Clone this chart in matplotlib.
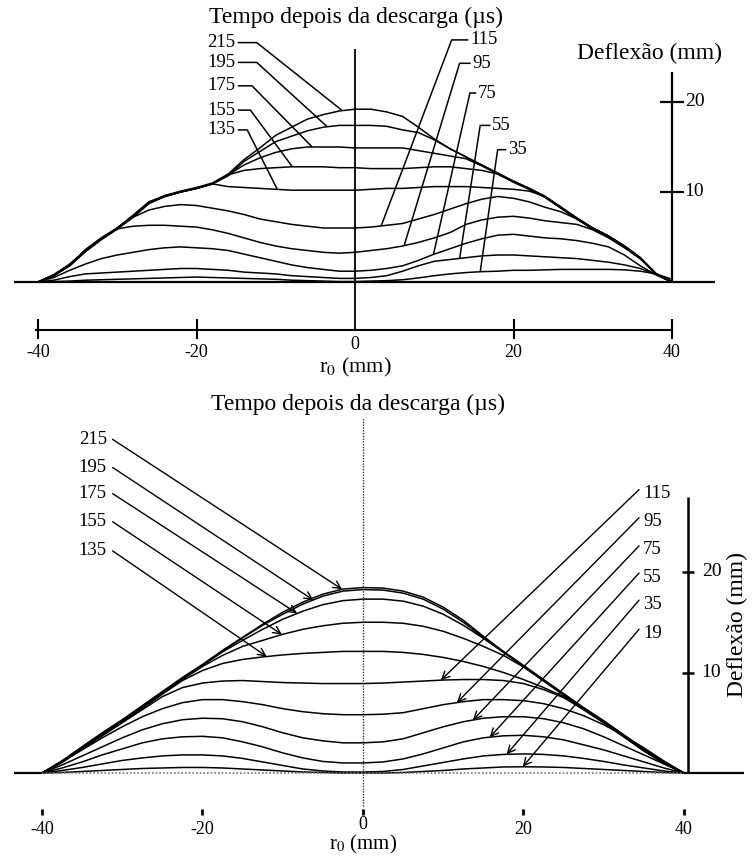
import numpy as np
import matplotlib.pyplot as plt

plt.rcParams['font.family'] = 'Liberation Serif'
plt.rcParams['mathtext.fontset'] = 'stix'

W, H = 755, 858

# measured profiles (upper panel), deflection in mm at r0 = -40..40 step 2
r_top = np.arange(-40, 41, 2)
top_215 = [0.0, 0.8, 1.9, 3.6, 4.9, 6.0, 7.4, 8.9, 9.6, 10.1, 10.5, 11.0, 12.0, 13.6, 14.9, 16.3, 17.2, 18.1, 18.6, 19.0, 19.2,
           19.2, 18.9, 18.4, 17.2, 15.9, 14.8, 13.9, 13.0, 12.1, 11.2, 10.4, 9.5, 8.3, 7.1, 6.0, 5.1, 4.0, 2.7, 0.9, 0.0]
top_195 = [0.0, 0.7, 1.8, 3.4, 4.8, 5.9, 7.2, 8.7, 9.5, 10.0, 10.4, 10.9, 11.8, 13.4, 14.5, 15.6, 16.2, 16.8, 17.2, 17.4, 17.4,
           17.4, 17.3, 16.9, 16.6, 15.8, 14.8, 13.9, 13.0, 12.1, 11.2, 10.4, 9.5, 8.3, 7.1, 6.0, 5.1, 4.0, 2.7, 0.9, 0.0]
top_175 = [0.0, 0.8, 2.0, 3.5, 4.8, 6.0, 7.3, 8.8, 9.6, 10.0, 10.4, 10.9, 11.9, 13.0, 13.8, 14.4, 14.8, 15.0, 15.0, 15.0, 14.9,
           14.9, 14.9, 14.9, 14.6, 14.3, 14.0, 13.7, 12.9, 12.0, 11.1, 10.3, 9.4, 8.2, 7.0, 5.9, 5.0, 3.9, 2.6, 0.9, 0.0]
top_155 = [0.0, 0.7, 1.9, 3.5, 4.8, 5.9, 7.3, 8.8, 9.5, 10.0, 10.4, 10.9, 11.9, 12.4, 12.6, 12.7, 12.8, 12.8, 12.8, 12.7, 12.7,
           12.6, 12.6, 12.6, 12.7, 12.8, 12.8, 12.6, 12.4, 12.0, 11.1, 10.3, 9.4, 8.2, 7.0, 5.9, 5.0, 3.9, 2.6, 0.9, 0.0]
top_135 = [0.0, 0.8, 1.9, 3.6, 4.9, 6.0, 7.4, 8.9, 9.5, 10.0, 10.4, 10.9, 10.6, 10.5, 10.4, 10.3, 10.2, 10.2, 10.2, 10.2, 10.2,
           10.3, 10.4, 10.4, 10.5, 10.6, 10.6, 10.6, 10.5, 10.4, 10.3, 10.1, 9.5, 8.3, 7.1, 6.0, 5.1, 4.0, 2.7, 0.9, 0.0]
top_115 = [0.0, 0.7, 1.8, 3.4, 4.8, 5.9, 7.2, 8.0, 8.4, 8.6, 8.5, 8.2, 7.9, 7.5, 7.0, 6.7, 6.4, 6.2, 6.0, 6.0, 6.0,
           6.1, 6.3, 6.5, 7.0, 7.5, 8.1, 8.7, 9.2, 9.5, 9.3, 8.9, 8.3, 7.8, 7.0, 5.9, 5.0, 3.9, 2.6, 0.9, 0.0]
top_95 = [0.0, 0.8, 1.9, 3.4, 4.7, 5.9, 6.2, 6.3, 6.3, 6.2, 6.1, 5.8, 5.4, 4.9, 4.4, 4.0, 3.7, 3.5, 3.3, 3.2, 3.3,
          3.5, 3.7, 4.0, 4.4, 4.9, 5.5, 6.4, 6.9, 7.2, 7.3, 7.1, 6.8, 6.6, 6.4, 5.8, 4.9, 3.8, 2.6, 0.9, 0.0]
top_75 = [0.0, 0.5, 1.3, 2.0, 2.6, 3.0, 3.3, 3.6, 3.8, 3.9, 3.8, 3.7, 3.5, 3.1, 2.7, 2.3, 1.9, 1.6, 1.4, 1.2, 1.2,
          1.3, 1.5, 1.8, 2.4, 3.1, 3.7, 4.3, 4.8, 5.2, 5.3, 5.1, 4.9, 4.8, 4.6, 4.3, 3.9, 3.0, 1.8, 0.8, 0.0]
top_55 = [0.0, 0.2, 0.6, 0.9, 1.0, 1.1, 1.2, 1.3, 1.4, 1.5, 1.5, 1.4, 1.3, 1.1, 1.0, 0.9, 0.7, 0.6, 0.5, 0.4, 0.4,
          0.5, 0.7, 1.2, 1.8, 2.3, 2.5, 2.7, 2.9, 3.0, 3.0, 2.9, 2.8, 2.7, 2.6, 2.4, 2.2, 1.9, 1.5, 0.8, 0.0]
top_35 = [0.0, 0.05, 0.1, 0.2, 0.25, 0.3, 0.35, 0.4, 0.45, 0.5, 0.55, 0.5, 0.45, 0.4, 0.35, 0.3, 0.2, 0.15, 0.1, 0.05, 0.05,
          0.1, 0.15, 0.25, 0.45, 0.7, 0.9, 1.05, 1.15, 1.2, 1.3, 1.3, 1.35, 1.4, 1.4, 1.4, 1.4, 1.35, 1.2, 0.9, 0.3]

top_left_times = ['215', '195', '175', '155', '135']
top_right_times = ['115', '95', '75', '55', '35']

# computed profiles (lower panel), r0 = -40..40 step 2.5
r_bot = np.arange(-40, 40.1, 2.5)
bot_215 = [0.0, 1.2, 2.6, 4.0, 5.3, 6.7, 8.1, 9.5, 10.8, 12.2, 13.5, 14.8, 16.0, 17.0, 17.8, 18.3, 18.45,
           18.4, 18.1, 17.5, 16.5, 15.2, 13.6, 12.1, 10.7, 9.3, 7.9, 6.5, 5.2, 3.8, 2.4, 1.1, 0.0]
bot_195 = [0.0, 1.2, 2.6, 3.95, 5.25, 6.65, 8.05, 9.45, 10.75, 12.15, 13.45, 14.7, 15.8, 16.8, 17.6, 18.1, 18.25,
           18.2, 17.9, 17.3, 16.3, 15.0, 13.5, 12.05, 10.65, 9.25, 7.85, 6.45, 5.15, 3.75, 2.35, 1.05, 0.0]
bot_175 = [0.0, 1.15, 2.55, 3.9, 5.2, 6.6, 8.0, 9.4, 10.7, 12.05, 13.2, 14.3, 15.3, 16.1, 16.75, 17.15, 17.3,
           17.3, 17.1, 16.6, 15.8, 14.7, 13.4, 12.0, 10.6, 9.2, 7.8, 6.4, 5.1, 3.7, 2.3, 1.0, 0.0]
bot_155 = [0.0, 1.1, 2.5, 3.85, 5.15, 6.5, 7.9, 9.3, 10.6, 11.7, 12.6, 13.2, 13.8, 14.3, 14.65, 14.9, 15.0,
           15.0, 14.9, 14.6, 14.1, 13.4, 12.6, 11.7, 10.55, 9.15, 7.75, 6.35, 5.05, 3.65, 2.25, 1.0, 0.0]
bot_135 = [0.0, 1.1, 2.45, 3.8, 5.1, 6.45, 7.85, 9.2, 10.2, 10.9, 11.3, 11.55, 11.75, 11.9, 12.0, 12.1, 12.1,
           12.1, 12.0, 11.8, 11.5, 11.1, 10.6, 10.0, 9.3, 8.5, 7.6, 6.3, 5.0, 3.6, 2.2, 0.95, 0.0]
bot_115 = [0.0, 1.05, 2.4, 3.7, 5.0, 6.3, 7.6, 8.5, 8.95, 9.15, 9.2, 9.1, 9.0, 8.95, 8.9, 8.9, 8.9,
           8.95, 9.05, 9.15, 9.25, 9.3, 9.3, 9.2, 8.9, 8.3, 7.5, 6.3, 5.0, 3.6, 2.2, 0.95, 0.0]
bot_95 = [0.0, 1.1, 2.3, 3.5, 4.6, 5.6, 6.4, 7.0, 7.3, 7.3, 7.1, 6.8, 6.4, 6.1, 5.9, 5.8, 5.8,
          5.85, 6.0, 6.4, 6.8, 7.1, 7.3, 7.3, 7.2, 6.9, 6.4, 5.7, 4.8, 3.7, 2.5, 1.2, 0.0]
bot_75 = [0.0, 0.8, 1.7, 2.6, 3.5, 4.3, 4.9, 5.3, 5.45, 5.4, 5.1, 4.6, 4.0, 3.5, 3.2, 3.0, 3.0,
          3.1, 3.4, 4.0, 4.6, 5.1, 5.45, 5.6, 5.6, 5.4, 5.0, 4.4, 3.6, 2.7, 1.8, 0.9, 0.0]
bot_55 = [0.0, 0.5, 1.1, 1.8, 2.4, 3.0, 3.4, 3.6, 3.65, 3.5, 3.1, 2.6, 2.0, 1.5, 1.15, 1.0, 1.0,
          1.1, 1.4, 1.9, 2.5, 3.1, 3.5, 3.7, 3.75, 3.6, 3.3, 2.8, 2.3, 1.7, 1.1, 0.5, 0.0]
bot_35 = [0.0, 0.25, 0.55, 0.9, 1.25, 1.5, 1.7, 1.8, 1.8, 1.7, 1.45, 1.1, 0.75, 0.4, 0.2, 0.1, 0.1,
          0.15, 0.35, 0.7, 1.05, 1.4, 1.7, 1.85, 1.9, 1.85, 1.7, 1.45, 1.15, 0.8, 0.5, 0.2, 0.0]
bot_19 = [0.0, 0.05, 0.15, 0.25, 0.35, 0.45, 0.5, 0.55, 0.55, 0.5, 0.4, 0.3, 0.2, 0.1, 0.05, 0.0, 0.0,
          0.0, 0.05, 0.15, 0.25, 0.4, 0.5, 0.6, 0.62, 0.6, 0.55, 0.45, 0.35, 0.25, 0.15, 0.05, 0.0]

bot_left_times = ['215', '195', '175', '155', '135']
bot_right_times = ['115', '95', '75', '55', '35', '19']

x_ticks = [-40, -20, 0, 20, 40]
defl_ticks = [10, 20]

title = 'Tempo depois da descarga (µs)'
ylab = 'Deflexão (mm)'
xlab = r'r$_0$ (mm)'

fig = plt.figure(figsize=(W / 100, H / 100), dpi=100)


def panel(x0, sx, y0, sy, xlim, ylim):
    # axes placed so that data units map to a fixed pixel scale
    left = (x0 + xlim[0] * sx) / W
    width = (xlim[1] - xlim[0]) * sx / W
    top = y0 - ylim[1] * sy
    bottom = y0 - ylim[0] * sy
    ax = fig.add_axes([left, 1 - bottom / H, width, (bottom - top) / H])
    ax.set_xlim(xlim)
    ax.set_ylim(ylim)
    ax.axis('off')
    return ax


k = dict(color='black', solid_capstyle='butt')

# ---------------- upper panel ----------------
ax1 = panel(355, 7.925, 282, 9.0, (-44, 48), (-11, 30))
for c in [top_215, top_195, top_175, top_155, top_135, top_115, top_95, top_75, top_55, top_35]:
    ax1.plot(r_top, c, lw=1.1, **k)

ax1.plot([-43, 45.4], [0, 0], lw=1.6, **k)
ax1.plot([0, 0], [-5.33, 25.9], lw=1.3, **k)
ax1.plot([-40.4, 40], [-5.33, -5.33], lw=1.5, **k)
for t in x_ticks:
    if t != 0:
        ax1.plot([t, t], [-4.1, -6.3], lw=1.5, **k)
    ax1.text(t, -7.8 if t else -6.9, str(t), ha='center', va='center', fontsize=13)
ax1.text(0, -9.5, xlab, ha='center', va='center', fontsize=16)

ax1.plot([40, 40], [0, 23.3], lw=1.6, **k)
for t in defl_ticks:
    ax1.plot([38.5, 41.5], [t, t], lw=1.6, **k)
    ax1.text(41.6, t, str(t), ha='left', va='center', fontsize=14)
ax1.text(37.2, 25.4, ylab, ha='center', va='center', fontsize=17)
ax1.text(0.1, 29.4, title, ha='center', va='center', fontsize=17)

tl_y = [26.6, 24.4, 21.8, 19.1, 16.9]
tl_dash = [-12.4, -12.4, -13.0, -13.2, -13.6]
tl_end = [-1.6, -3.5, -5.4, -7.9, -9.8]
for lab, y, xd, xe, c in zip(top_left_times, tl_y, tl_dash, tl_end,
                            [top_215, top_195, top_175, top_155, top_135]):
    ax1.text(-15.1, y, lab, ha='right', va='center', fontsize=13.5)
    ye = np.interp(xe, r_top, c)
    ax1.plot([-14.8, xd, xe], [y, y, ye], lw=1.1, **k)

tr_x = [14.5, 14.8, 15.5, 17.3, 19.3]
tr_y = [26.9, 24.3, 21.0, 17.4, 14.7]
tr_dash = [12.2, 13.2, 14.5, 15.8, 18.0]
tr_end = [3.3, 6.2, 9.9, 13.2, 15.8]
for lab, x, y, xd, xe, c in zip(top_right_times, tr_x, tr_y, tr_dash, tr_end,
                               [top_115, top_95, top_75, top_55, top_35]):
    ax1.text(x, y, lab, ha='left', va='center', fontsize=13.5)
    ye = np.interp(xe, r_top, c)
    ax1.plot([x - 0.2, xd, xe], [y, y, ye], lw=1.1, **k)

# ---------------- lower panel ----------------
ax2 = panel(363, 8.025, 773, 10.05, (-44.5, 49), (-8.4, 38))
for c in [bot_215, bot_195, bot_175, bot_155, bot_135, bot_115, bot_95, bot_75, bot_55, bot_35, bot_19]:
    ax2.plot(r_bot, c, lw=1.1, **k)

ax2.plot([-43.5, -40], [0, 0], lw=1.6, **k)
ax2.plot([40, 47.5], [0, 0], lw=1.6, **k)
ax2.plot([-40, 40], [0, 0], lw=1.2, ls=(0, (1, 1.2)), color='0.45')
ax2.plot([0, 0], [-3.3, 35.3], lw=1.0, ls=(0, (1, 1)), color='0.2')
for t in x_ticks:
    ax2.plot([t, t], [-3.6, -4.2], lw=2.0, **k)
    ax2.text(t, -5.6 if t else -5.15, str(t), ha='center', va='center', fontsize=13)
ax2.text(0, -7.1, xlab, ha='center', va='center', fontsize=15)

ax2.plot([40.5, 40.5], [0, 27.5], lw=1.8, **k)
for t in defl_ticks:
    ax2.plot([39.7, 41.3], [t, t], lw=1.8, **k)
    ax2.text(42.2, t, str(t), ha='left', va='center', fontsize=14)
ax2.text(46.7, 14.8, ylab, ha='center', va='center', rotation=90, fontsize=17)
ax2.text(-0.6, 36.7, title, ha='center', va='center', fontsize=17)

arrow = dict(arrowstyle='->,head_length=0.45,head_width=0.22', lw=1.0, color='black',
             shrinkA=0, shrinkB=0, mutation_scale=12)

bl_y = [33.2, 30.4, 27.8, 25.0, 22.1]
bl_tip = [-2.6, -6.2, -8.2, -10.1, -12.0]
for lab, y, xt, c in zip(bot_left_times, bl_y, bl_tip, [bot_215, bot_195, bot_175, bot_155, bot_135]):
    ax2.text(-31.9, y, lab, ha='right', va='center', fontsize=13.5)
    ax2.annotate('', xy=(xt, np.interp(xt, r_bot, c)), xytext=(-31.2, y), arrowprops=arrow)

br_y = [27.8, 25.0, 22.2, 19.5, 16.8, 13.9]
br_tip = [9.7, 11.7, 13.7, 15.8, 17.9, 19.9]
for lab, y, xt, c in zip(bot_right_times, br_y, br_tip, [bot_115, bot_95, bot_75, bot_55, bot_35, bot_19]):
    ax2.text(34.9, y, lab, ha='left', va='center', fontsize=13.5)
    ax2.annotate('', xy=(xt, np.interp(xt, r_bot, c)), xytext=(34.4, y + 0.4), arrowprops=arrow)

fig.savefig('out.png', dpi=100, facecolor='white')
